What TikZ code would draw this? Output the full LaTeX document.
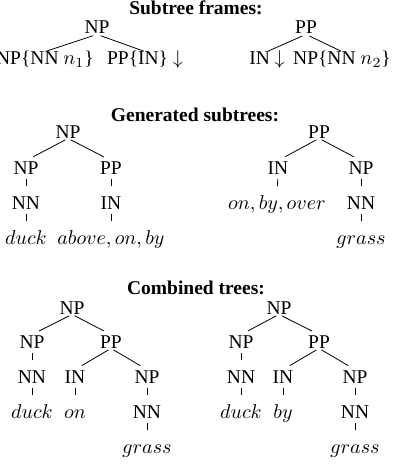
\documentclass[tikz,border=0pt]{standalone}
\usepackage[no-math]{fontspec}
\setmainfont{Liberation Serif}
\usepackage{amsmath}
\usepackage{tikz}

\begin{document}
\begin{tikzpicture}[x=0.5pt,y=-0.5pt,font=\fontsize{9.75}{12}\selectfont,
  lab/.style={anchor=base,inner sep=0pt,text height=6.5pt,text depth=0pt},
  ttl/.style={anchor=base,inner sep=0pt,font=\fontsize{9.75}{12}\selectfont\bfseries},
  edge/.style={shorten <=1.5pt,shorten >=4pt},
  frameedge/.style={shorten <=2pt,shorten >=0.75pt},
  tick/.style={shorten <=2.25pt,shorten >=4.75pt}]

\useasboundingbox (0,0) rectangle (401,465);

\node[ttl] (ttlframes) at (196,14.5) {Subtree frames:};

\node[lab] (frNP) at (97,34) {NP};
\node[lab] (frNPc) at (45,65) {NP\{NN $n_1$\}};
\node[lab] (frPPc) at (145,65) {PP\{IN\} $\downarrow$};
\draw[frameedge] (frNP.south) -- (frNPc.north);
\draw[frameedge] (frNP.south) -- (frPPc.north);

\node[lab] (frPP) at (306,34) {PP};
\node[lab] (frIN) at (267,65) {IN $\downarrow$};
\node[lab] (frNPn) at (342,65) {NP\{NN $n_2$\}};
\draw[frameedge] (frPP.south) -- (frIN.north);
\draw[frameedge] (frPP.south) -- (frNPn.north);

\node[ttl] (ttlgen) at (195,121) {Generated subtrees:};

\node[lab] (gNP) at (68,138) {NP};
\node[lab] (gNPa) at (26,174) {NP};
\node[lab] (gPPa) at (111,174) {PP};
\node[lab] (gNNa) at (26,209) {NN};
\node[lab] (gINa) at (111,209) {IN};
\node[lab] (gduck) at (26,244) {$duck$};
\node[lab] (gprep) at (111,244) {$above, on, by$};
\draw[edge] (gNP.south) -- (gNPa.north);
\draw[edge] (gNP.south) -- (gPPa.north);
\draw[tick] (gNPa.south) -- (gNNa.north);
\draw[tick] (gNNa.south) -- (gduck.north);
\draw[tick] (gPPa.south) -- (gINa.north);
\draw[tick] (gINa.south) -- (gprep.north);

\node[lab] (gPP) at (319,138) {PP};
\node[lab] (gINb) at (278,174) {IN};
\node[lab] (gNPb) at (361,174) {NP};
\node[lab] (gprepb) at (277,209) {$on, by, over$};
\node[lab] (gNNb) at (361,209) {NN};
\node[lab] (ggrass) at (361,244) {$grass$};
\draw[edge] (gPP.south) -- (gINb.north);
\draw[edge] (gPP.south) -- (gNPb.north);
\draw[tick] (gINb.south) -- (gprepb.north);
\draw[tick] (gNPb.south) -- (gNNb.north);
\draw[tick] (gNNb.south) -- (ggrass.north);

\node[ttl] (ttlcomb) at (196,294.5) {Combined trees:};

\node[lab] (aNP) at (72,314) {NP};
\node[lab] (aNPa) at (32,348) {NP};
\node[lab] (aPP) at (111,348) {PP};
\node[lab] (aNNa) at (32,383) {NN};
\node[lab] (aIN) at (75,383) {IN};
\node[lab] (aNPb) at (147,383) {NP};
\node[lab] (aduck) at (32,418) {$duck$};
\node[lab] (aon) at (75,418) {$on$};
\node[lab] (aNNb) at (147,418) {NN};
\node[lab] (agrass) at (147,453) {$grass$};
\draw[edge] (aNP.south) -- (aNPa.north);
\draw[edge] (aNP.south) -- (aPP.north);
\draw[tick] (aNPa.south) -- (aNNa.north);
\draw[tick] (aNNa.south) -- (aduck.north);
\draw[edge] (aPP.south) -- (aIN.north);
\draw[edge] (aPP.south) -- (aNPb.north);
\draw[tick] (aIN.south) -- (aon.north);
\draw[tick] (aNPb.south) -- (aNNb.north);
\draw[tick] (aNNb.south) -- (agrass.north);

\node[lab] (bNP) at (279,314) {NP};
\node[lab] (bNPa) at (241,348) {NP};
\node[lab] (bPP) at (319,348) {PP};
\node[lab] (bNNa) at (241,383) {NN};
\node[lab] (bIN) at (283,383) {IN};
\node[lab] (bNPb) at (355,383) {NP};
\node[lab] (bduck) at (241,418) {$duck$};
\node[lab] (bby) at (283,418) {$by$};
\node[lab] (bNNb) at (355,418) {NN};
\node[lab] (bgrass) at (355,453) {$grass$};
\draw[edge] (bNP.south) -- (bNPa.north);
\draw[edge] (bNP.south) -- (bPP.north);
\draw[tick] (bNPa.south) -- (bNNa.north);
\draw[tick] (bNNa.south) -- (bduck.north);
\draw[edge] (bPP.south) -- (bIN.north);
\draw[edge] (bPP.south) -- (bNPb.north);
\draw[tick] (bIN.south) -- (bby.north);
\draw[tick] (bNPb.south) -- (bNNb.north);
\draw[tick] (bNNb.south) -- (bgrass.north);

\end{tikzpicture}
\end{document}
